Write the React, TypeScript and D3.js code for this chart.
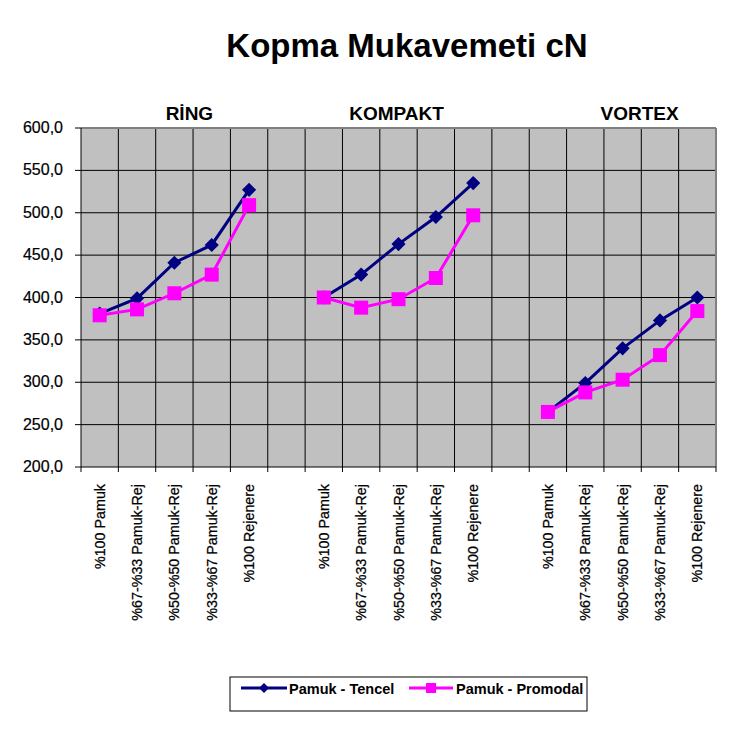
import React from "react";
import * as d3 from "d3";

const categories: string[] = [
  "%100 Pamuk", "%67-%33 Pamuk-Rej", "%50-%50 Pamuk-Rej", "%33-%67 Pamuk-Rej", "%100 Rejenere",
  "",
  "%100 Pamuk", "%67-%33 Pamuk-Rej", "%50-%50 Pamuk-Rej", "%33-%67 Pamuk-Rej", "%100 Rejenere",
  "",
  "%100 Pamuk", "%67-%33 Pamuk-Rej", "%50-%50 Pamuk-Rej", "%33-%67 Pamuk-Rej", "%100 Rejenere",
];
const groups: string[] = ["RİNG", "KOMPAKT", "VORTEX"];
const tencel: (number | null)[] = [
  381, 399, 441, 462, 527, null,
  400, 427, 463, 495, 535, null,
  265, 299, 340, 373, 400,
];
const promodal: (number | null)[] = [
  379, 386, 405, 427, 509, null,
  400, 388, 398, 423, 497, null,
  265, 288, 303, 332, 384,
];
const yTicks: number[] = [200, 250, 300, 350, 400, 450, 500, 550, 600];
const seriesNames: string[] = ["Pamuk - Tencel", "Pamuk - Promodal"];

const W = 738, H = 749;
const left = 81, right = 716, top = 128, bottom = 467;
const FONT = "'Liberation Sans', Arial, sans-serif";

export default function App() {
  const x = d3.scaleBand<number>().domain(d3.range(categories.length)).range([left, right]).paddingInner(0).paddingOuter(0);
  const y = d3.scaleLinear().domain([200, 600]).range([bottom, top]);
  const cx = (i: number) => (x(i) as number) + x.bandwidth() / 2;
  const line = d3.line<number | null>()
    .defined((d) => d !== null)
    .x((_, i) => cx(i))
    .y((d) => y(d as number));
  const fmt = (v: number) => v.toFixed(1).replace(".", ",");
  const groupCenters = [2, 8, 14].map((i) => cx(i));
  const groupOffsets = [15, -2, 17];

  return (
    <svg width={W} height={H} style={{ position: "absolute", left: 0, top: 0, background: "#fff" }} fontFamily={FONT}>
      <text x={407} y={57} textAnchor="middle" fontSize={33} fontWeight="bold">Kopma Mukavemeti cN</text>
      {groups.map((g, i) => (
        <text key={g} x={groupCenters[i] + groupOffsets[i]} y={120} textAnchor="middle" fontSize={19} fontWeight="bold">{g}</text>
      ))}
      <rect x={left} y={top} width={right - left} height={bottom - top} fill="#C0C0C0" />
      {yTicks.slice(1).map((t) => (
        <line key={t} x1={left} x2={right} y1={y(t)} y2={y(t)} stroke="#000" strokeWidth={1} />
      ))}
      {d3.range(1, categories.length).map((i) => (
        <line key={i} x1={x(i) as number} x2={x(i) as number} y1={top} y2={bottom} stroke="#000" strokeWidth={1} />
      ))}
      <line x1={left} x2={right} y1={top} y2={top} stroke="#808080" strokeWidth={2} />
      <line x1={right} x2={right} y1={top} y2={bottom} stroke="#808080" strokeWidth={2} />
      <line x1={left} x2={left} y1={top} y2={bottom} stroke="#000" strokeWidth={1} />
      <line x1={left} x2={right} y1={bottom} y2={bottom} stroke="#000" strokeWidth={1} />
      {yTicks.map((t) => (
        <g key={t}>
          <line x1={left - 6} x2={left} y1={y(t)} y2={y(t)} stroke="#000" />
          <text x={63} y={y(t) + 5} textAnchor="end" fontSize={16} stroke="#000" strokeWidth={0.2}>{fmt(t)}</text>
        </g>
      ))}
      {d3.range(0, categories.length + 1).map((i) => {
        const xx = i < categories.length ? (x(i) as number) : right;
        return <line key={i} x1={xx} x2={xx} y1={bottom} y2={bottom + 5} stroke="#000" />;
      })}
      {categories.map((c, i) => (
        <text key={i} transform={`translate(${cx(i) + 5},${484}) rotate(-90)`} textAnchor="end" fontSize={14.3} stroke="#000" strokeWidth={0.25}>{c}</text>
      ))}
      <path d={line(tencel) || ""} fill="none" stroke="#000080" strokeWidth={3} />
      <path d={line(promodal) || ""} fill="none" stroke="#FF00FF" strokeWidth={3} />
      {tencel.map((v, i) => v === null ? null : (
        <rect key={i} x={-5} y={-5} width={10} height={10} fill="#000080"
          transform={`translate(${cx(i)},${y(v)}) rotate(45)`} />
      ))}
      {promodal.map((v, i) => v === null ? null : (
        <rect key={i} x={cx(i) - 7} y={y(v) - 7} width={14} height={14} fill="#FF00FF" />
      ))}
      <rect x={230} y={677} width={357} height={34} fill="#fff" stroke="#000" strokeWidth={1} />
      <line x1={241} x2={287} y1={688} y2={688} stroke="#000080" strokeWidth={3} />
      <rect x={-3.5} y={-3.5} width={7} height={7} fill="#000080" transform="translate(264,688) rotate(45)" />
      <text x={289} y={694} fontSize={14.5} fontWeight="bold">{seriesNames[0]}</text>
      <line x1={409} x2={453} y1={688} y2={688} stroke="#FF00FF" strokeWidth={3} />
      <rect x={426} y={683} width={10} height={10} fill="#FF00FF" />
      <text x={456} y={694} fontSize={14.5} fontWeight="bold">{seriesNames[1]}</text>
    </svg>
  );
}
